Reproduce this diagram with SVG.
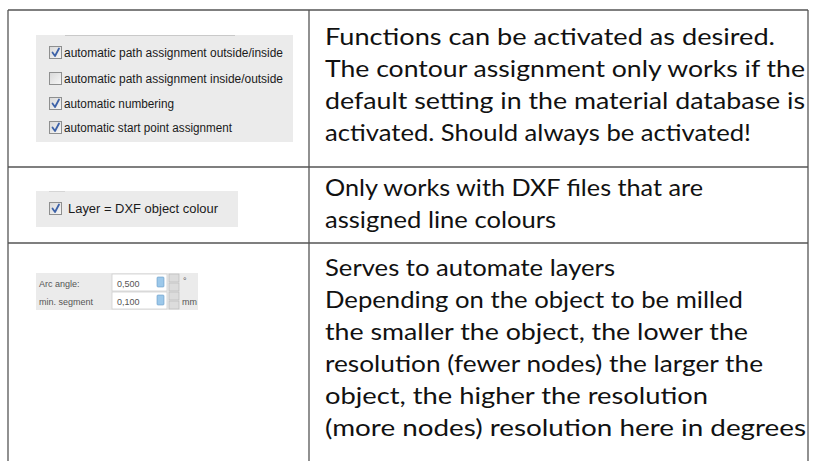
<svg xmlns="http://www.w3.org/2000/svg" width="814" height="461" viewBox="0 0 814 461">
<style>
.grid{stroke:#555;stroke-width:1.3;fill:none}
.t{font-family:Lato,"Open Sans",sans-serif;font-size:22.5px;fill:#111}
.ui{font-family:"Liberation Sans",Arial,sans-serif;font-size:12px;fill:#1a1a1a}
.sm{font-family:"Liberation Sans",Arial,sans-serif;font-size:9px;fill:#555}
.panel{fill:#ebebeb}
.cb{fill:url(#cbg);stroke:#8e8f8f;stroke-width:1}
.chk{fill:none;stroke:#3d62a8;stroke-width:1.8;stroke-linecap:round;stroke-linejoin:round}
.field{fill:#fff;stroke:#cfcfcf;stroke-width:0.8}
.spin{fill:#dcdcdc;stroke:#b5b5b5;stroke-width:0.6}
.icon{fill:#9cc8ea;stroke:#6a9cc8;stroke-width:0.6}
</style>
<defs>
<linearGradient id="cbg" x1="0" y1="0" x2="1" y2="1">
<stop offset="0" stop-color="#d8d8d8"/><stop offset="1" stop-color="#f7f7f7"/>
</linearGradient>
</defs>
<g id="table">
<line class="grid" x1="8" y1="10" x2="808" y2="10"/>
<line class="grid" x1="8" y1="10" x2="8" y2="461"/>
<line class="grid" x1="808" y1="10" x2="808" y2="461"/>
<line class="grid" x1="309" y1="10" x2="309" y2="461"/>
<line class="grid" x1="8" y1="167" x2="808" y2="167"/>
<line class="grid" x1="8" y1="243" x2="808" y2="243"/>
</g>
<g id="row1-shot">
<rect class="panel" x="36" y="35" width="257" height="107"/>
<line x1="65" y1="35.5" x2="235" y2="35.5" stroke="#c9c9c9" stroke-width="1"/>
<rect class="cb" x="49.5" y="46.5" width="12" height="12"/>
<path class="chk" d="M52.5 52.5 L55 56 L59 48.5"/>
<text class="ui" x="64" y="57" textLength="219" lengthAdjust="spacingAndGlyphs">automatic path assignment outside/inside</text>
<rect class="cb" x="49.5" y="72.5" width="12" height="12"/>
<text class="ui" x="64" y="83" textLength="219" lengthAdjust="spacingAndGlyphs">automatic path assignment inside/outside</text>
<rect class="cb" x="49.5" y="97.5" width="12" height="12"/>
<path class="chk" d="M52.5 103.5 L55 107 L59 99.5"/>
<text class="ui" x="64" y="108" textLength="110" lengthAdjust="spacingAndGlyphs">automatic numbering</text>
<rect class="cb" x="49.5" y="121.5" width="12" height="12"/>
<path class="chk" d="M52.5 127.5 L55 131 L59 123.5"/>
<text class="ui" x="64" y="132" textLength="168" lengthAdjust="spacingAndGlyphs">automatic start point assignment</text>
</g>
<g id="row1-text">
<text class="t" x="325" y="45" textLength="450" lengthAdjust="spacingAndGlyphs">Functions can be activated as desired.</text>
<text class="t" x="325" y="77" textLength="480" lengthAdjust="spacingAndGlyphs">The contour assignment only works if the</text>
<text class="t" x="325" y="109" textLength="480" lengthAdjust="spacingAndGlyphs">default setting in the material database is</text>
<text class="t" x="325" y="141" textLength="426" lengthAdjust="spacingAndGlyphs">activated. Should always be activated!</text>
</g>
<g id="row2-shot">
<rect class="panel" x="36" y="191" width="202" height="36"/>
<line x1="49" y1="191.5" x2="65" y2="191.5" stroke="#d5d5d5" stroke-width="1"/>
<rect class="cb" x="49.5" y="202.5" width="12" height="12"/>
<path class="chk" d="M52.5 208.5 L55 212 L59 204.5"/>
<text class="ui" x="68" y="213" font-size="13" textLength="150" lengthAdjust="spacingAndGlyphs">Layer = DXF object colour</text>
</g>
<g id="row2-text">
<text class="t" x="325" y="196" textLength="378" lengthAdjust="spacingAndGlyphs">Only works with DXF files that are</text>
<text class="t" x="325" y="228" textLength="231" lengthAdjust="spacingAndGlyphs">assigned line colours</text>
</g>
<g id="row3-shot">
<rect class="panel" x="36" y="273" width="162" height="37"/>
<text class="sm" x="39" y="287">Arc angle:</text>
<text class="sm" x="39" y="305">min. segment</text>
<rect class="field" x="112" y="274" width="55" height="17"/>
<rect class="field" x="112" y="292" width="55" height="17"/>
<text class="sm" x="117" y="287" fill="#333">0,500</text>
<text class="sm" x="117" y="305" fill="#333">0,100</text>
<rect class="icon" x="157" y="277" width="7" height="10" rx="1"/>
<rect class="icon" x="157" y="295" width="7" height="10" rx="1"/>
<rect class="spin" x="169" y="274" width="10" height="8"/>
<rect class="spin" x="169" y="283" width="10" height="8"/>
<rect class="spin" x="169" y="292" width="10" height="8"/>
<rect class="spin" x="169" y="301" width="10" height="8"/>
<text class="sm" x="183" y="284" font-size="7">°</text>
<text class="sm" x="182" y="305" font-size="8">mm</text>
</g>
<g id="row3-text">
<text class="t" x="325" y="276" textLength="290" lengthAdjust="spacingAndGlyphs">Serves to automate layers</text>
<text class="t" x="325" y="308" textLength="418" lengthAdjust="spacingAndGlyphs">Depending on the object to be milled</text>
<text class="t" x="325" y="340" textLength="423" lengthAdjust="spacingAndGlyphs">the smaller the object, the lower the</text>
<text class="t" x="325" y="372" textLength="438" lengthAdjust="spacingAndGlyphs">resolution (fewer nodes) the larger the</text>
<text class="t" x="325" y="404" textLength="383" lengthAdjust="spacingAndGlyphs">object, the higher the resolution</text>
<text class="t" x="325" y="436" textLength="481" lengthAdjust="spacingAndGlyphs">(more nodes) resolution here in degrees</text>
</g>
</svg>
